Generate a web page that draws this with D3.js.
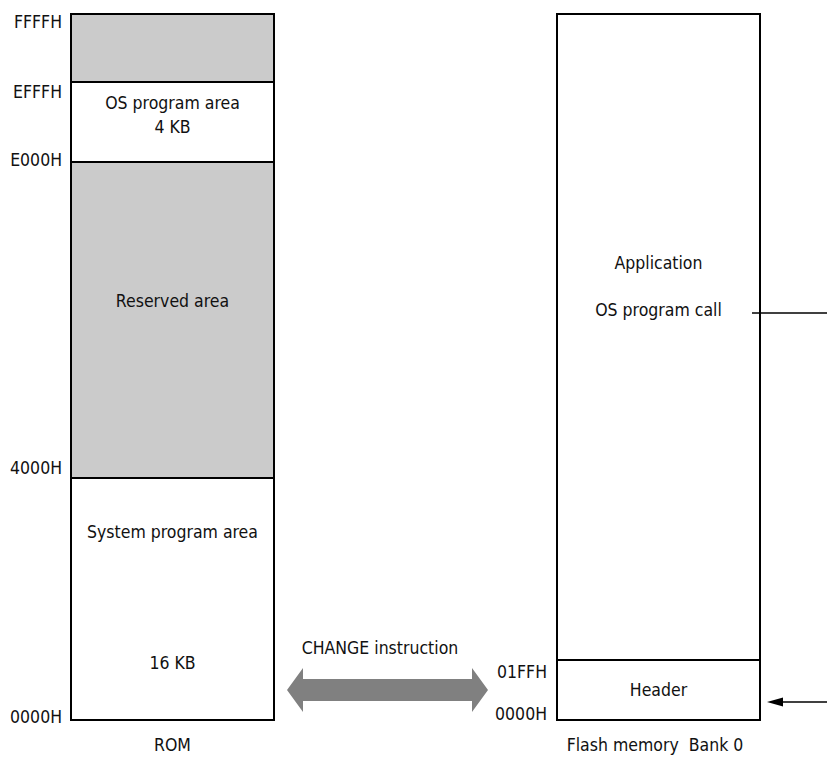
<!DOCTYPE html>
<html><head><meta charset="utf-8">
<script src="https://cdn.jsdelivr.net/npm/d3@7"></script>
<style>body{margin:0;background:#fff}text{font-family:"DejaVu Sans Condensed","Liberation Sans Narrow",sans-serif;font-size:17.5px;fill:#111;white-space:pre}</style>
</head><body><svg id="c" width="827" height="757"></svg>
<script>
// ROM memory map (addresses)
const romBreaks = [0x0000, 0x4000, 0xE000, 0xF000, 0x10000];
const romTickLabels = ["0000H", "4000H", "E000H", "EFFFH", "FFFFH"];
const romAreas = [
  {from: 0x0000, to: 0x4000, shade: false, lines: ["System program area", "16 KB"]},
  {from: 0x4000, to: 0xE000, shade: true, lines: ["Reserved area"]},
  {from: 0xE000, to: 0xF000, shade: false, lines: ["OS program area", "4 KB"]},
  {from: 0xF000, to: 0x10000, shade: true, lines: []}
];
// Flash memory Bank 0
const flashBreaks = [0x0000, 0x0200, 0x4000];
const flashTickLabels = ["0000H", "01FFH"];
const flashAreas = [
  {from: 0x0000, to: 0x0200, lines: ["Header"]},
  {from: 0x0200, to: 0x4000, lines: ["Application", "OS program call"]}
];
const titles = ["ROM", "Flash memory  Bank 0"];
const arrowLabel = "CHANGE instruction";

const svg = d3.select("#c");
const yRom = d3.scaleLinear().domain(romBreaks).range([720, 478, 162, 82, 14]);
const yFlash = d3.scaleLinear().domain(flashBreaks).range([720, 660, 14]);
const romX = [71, 274], flashX = [557, 760];

// ROM areas
romAreas.forEach(a => {
  svg.append("rect").attr("x", romX[0]).attr("y", yRom(a.to))
    .attr("width", romX[1]-romX[0]).attr("height", yRom(a.from)-yRom(a.to))
    .attr("fill", a.shade ? "#cbcbcb" : "#fff").attr("stroke", "#000").attr("stroke-width", 2);
});
const cxR = (romX[0]+romX[1])/2;
svg.append("text").attr("x", cxR).attr("y", 109).attr("text-anchor","middle").text(romAreas[2].lines[0]);
svg.append("text").attr("x", cxR).attr("y", 133).attr("text-anchor","middle").text(romAreas[2].lines[1]);
svg.append("text").attr("x", cxR).attr("y", 307).attr("text-anchor","middle").text(romAreas[1].lines[0]);
svg.append("text").attr("x", cxR).attr("y", 538).attr("text-anchor","middle").text(romAreas[0].lines[0]);
svg.append("text").attr("x", cxR).attr("y", 669).attr("text-anchor","middle").text(romAreas[0].lines[1]);

// ROM tick labels
const romLabelY = [723, 474, 166, 98, 28];
romTickLabels.forEach((t,i) => {
  svg.append("text").attr("x", 62).attr("y", romLabelY[i]).attr("text-anchor","end").text(t);
});
svg.append("text").attr("x", cxR).attr("y", 751).attr("text-anchor","middle").text(titles[0]);

// Flash areas
flashAreas.forEach(a => {
  svg.append("rect").attr("x", flashX[0]).attr("y", yFlash(a.to))
    .attr("width", flashX[1]-flashX[0]).attr("height", yFlash(a.from)-yFlash(a.to))
    .attr("fill", "#fff").attr("stroke", "#000").attr("stroke-width", 2);
});
const cxF = (flashX[0]+flashX[1])/2;
svg.append("text").attr("x", cxF).attr("y", 696).attr("text-anchor","middle").text(flashAreas[0].lines[0]);
svg.append("text").attr("x", cxF).attr("y", 269).attr("text-anchor","middle").text(flashAreas[1].lines[0]);
svg.append("text").attr("x", cxF).attr("y", 316).attr("text-anchor","middle").text(flashAreas[1].lines[1]);
const flashLabelY = [720, 678];
flashTickLabels.forEach((t,i) => {
  svg.append("text").attr("x", 547).attr("y", flashLabelY[i]).attr("text-anchor","end").text(t);
});
svg.append("text").attr("x", 655).attr("y", 751).attr("text-anchor","middle").text(titles[1]);

// OS program call line
svg.append("line").attr("x1", 752).attr("x2", 827).attr("y1", 313).attr("y2", 313).attr("stroke","#000").attr("stroke-width",1.5);
// header arrow
svg.append("line").attr("x1", 780).attr("x2", 827).attr("y1", 702).attr("y2", 702).attr("stroke","#000").attr("stroke-width",1.5);
svg.append("path").attr("d","M767,702 L783,697.5 L783,706.5 Z").attr("fill","#000");

// CHANGE double arrow
svg.append("path")
  .attr("d","M287,690 L303,668 L303,679 L472,679 L472,668 L488,690 L472,712 L472,701 L303,701 L303,712 Z")
  .attr("fill","#808080");
svg.append("text").attr("x", 380).attr("y", 654).attr("text-anchor","middle").text(arrowLabel);
</script></body></html>
